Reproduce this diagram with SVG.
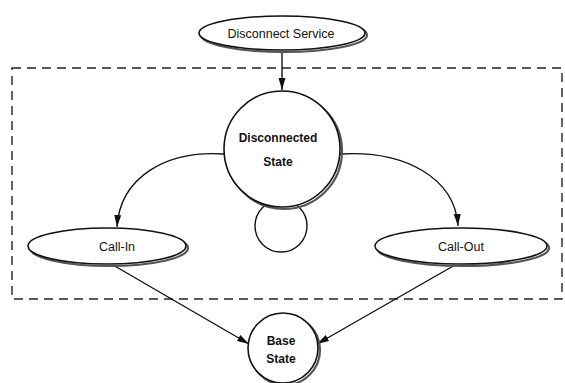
<svg xmlns="http://www.w3.org/2000/svg" width="565" height="383" viewBox="0 0 565 383">
  <style>
    .node { fill: #fff; stroke: #111; stroke-width: 1.6; }
    .shade { fill: none; stroke: #555; stroke-width: 2.2; }
    .edge { fill: none; stroke: #111; stroke-width: 1.4; }
    .lbl { font-family: "Liberation Sans", Arial, sans-serif; font-size: 12.5px; fill: #111; text-anchor: middle; }
    .bold { font-weight: bold; font-size: 12px; }
    .frame { fill: none; stroke: #222; stroke-width: 1.4; stroke-dasharray: 9 6; }
  </style>
  <defs>
    <marker id="arrow" viewBox="0 0 12 8" refX="12" refY="4" markerWidth="12" markerHeight="8" markerUnits="userSpaceOnUse" orient="auto">
      <path d="M0,0.5 L12,4 L0,7.5 Z" fill="#111"/>
    </marker>
  </defs>

  <rect class="frame" x="12" y="68" width="550" height="231"/>

  <g id="connectors">
    <path class="edge" d="M282,52 L282,90" marker-end="url(#arrow)"/>
    <path class="edge" d="M224,154 C165,150 120,178 117,227" marker-end="url(#arrow)"/>
    <path class="edge" d="M340,154 C405,150 455,178 458,226" marker-end="url(#arrow)"/>
    <path class="edge" d="M113,265 L249,344" marker-end="url(#arrow)"/>
    <path class="edge" d="M455,265 L317,344" marker-end="url(#arrow)"/>
    <!-- self-transition loop under the state circle -->
    <circle class="edge" cx="281" cy="226" r="26"/>
  </g>

  <g id="disconnect-service">
    <ellipse class="shade" cx="284" cy="35" rx="83" ry="17"/>
    <ellipse class="node" cx="282" cy="33" rx="83" ry="17"/>
    <text class="lbl" x="281" y="38">Disconnect Service</text>
  </g>

  <g id="disconnected-state">
    <circle class="shade" cx="284" cy="151" r="58"/>
    <circle class="node" cx="282" cy="149" r="58"/>
    <text class="lbl bold" x="278" y="142">Disconnected</text>
    <text class="lbl bold" x="278" y="166">State</text>
  </g>

  <g id="call-in">
    <ellipse class="shade" cx="109" cy="248" rx="79" ry="18"/>
    <ellipse class="node" cx="107" cy="246" rx="79" ry="18"/>
    <text class="lbl" x="117" y="251">Call-In</text>
  </g>

  <g id="call-out">
    <ellipse class="shade" cx="463" cy="248" rx="86" ry="18"/>
    <ellipse class="node" cx="461" cy="246" rx="86" ry="18"/>
    <text class="lbl" x="461" y="251">Call-Out</text>
  </g>

  <g id="base-state">
    <circle class="shade" cx="285" cy="350" r="35"/>
    <circle class="node" cx="283" cy="348" r="35"/>
    <text class="lbl bold" x="281" y="345">Base</text>
    <text class="lbl bold" x="281" y="363">State</text>
  </g>
</svg>
